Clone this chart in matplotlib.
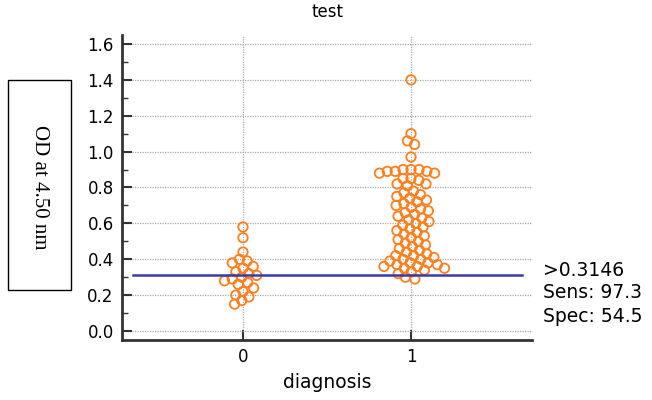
import numpy as np
import matplotlib
matplotlib.use("Agg")
import matplotlib.pyplot as plt
from matplotlib.patches import Rectangle
from matplotlib.ticker import MultipleLocator

# ---- data ----
categories = [0, 1]
group0 = [0.58, 0.52, 0.44, 0.40, 0.39, 0.38, 0.36, 0.35, 0.33, 0.32,
          0.31, 0.30, 0.29, 0.28, 0.27, 0.26, 0.24, 0.22, 0.20, 0.19, 0.17, 0.15]
group1 = [1.40, 1.10, 1.06, 1.04, 0.97, 0.90, 0.90, 0.90, 0.89, 0.89, 0.89, 0.88,
          0.88, 0.85, 0.85, 0.84, 0.82, 0.82, 0.81,
          0.78, 0.77, 0.76, 0.75, 0.74, 0.73, 0.72, 0.71, 0.70, 0.69, 0.68, 0.67,
          0.66, 0.65, 0.64, 0.63, 0.62, 0.61, 0.60, 0.59, 0.58, 0.57, 0.56, 0.55,
          0.54, 0.53, 0.52, 0.51, 0.50, 0.49, 0.48, 0.47, 0.46, 0.45, 0.44, 0.43,
          0.42, 0.42, 0.41, 0.40, 0.40, 0.39, 0.38, 0.38, 0.37, 0.37, 0.36, 0.36,
          0.35, 0.35, 0.34, 0.33, 0.32, 0.30, 0.29]
groups = [group0, group1]
cutoff = 0.3146
cutoff_label = ">0.3146"
sens_label = "Sens: 97.3"
spec_label = "Spec: 54.5"
yticks = [0.0, 0.2, 0.4, 0.6, 0.8, 1.0, 1.2, 1.4, 1.6]

SANS = "DejaVu Sans"
orange = "#ff7f1e"
fig = plt.figure(figsize=(6.52, 4.0), dpi=100)
ax = fig.add_axes([122/652, 1-340/400, (532-122)/652, (340-35)/400])
ax.set_xlim(-0.72, 1.72)
ax.set_ylim(-0.05, 1.65)

# swarm layout in pixel units
def swarm(xc, ys, diam):
    pts = ax.transData.transform(np.column_stack([np.full(len(ys), xc), ys]))
    cx = pts[0, 0]
    order = np.argsort(-np.asarray(ys))
    placed = []
    xs = np.zeros(len(ys))
    for i in order:
        yi = pts[i, 1]
        cands = [0.0]
        for (px, py) in placed:
            dy = yi - py
            if abs(dy) < diam:
                dx = np.sqrt(diam**2 - dy**2)
                cands += [px - cx + dx, px - cx - dx]
        cands = sorted(cands, key=lambda c: (abs(c), c))
        for c in cands:
            ok = True
            for (px, py) in placed:
                if (cx + c - px)**2 + (yi - py)**2 < diam**2 - 1e-6:
                    ok = False
                    break
            if ok:
                break
        placed.append((cx + c, yi))
        xs[i] = cx + c
    back = ax.transData.inverted().transform(np.column_stack([xs, pts[:, 1]]))
    return back[:, 0]

for cat, vals in zip(categories, groups):
    xs = swarm(cat, vals, 8.0)
    ax.scatter(xs, vals, s=46, facecolors="none", edgecolors=orange,
               linewidths=1.3, zorder=3)

ax.plot([-0.655, 1.66], [cutoff, cutoff], color="#3a3aa8", lw=1.8, zorder=4)

ax.set_xticks(categories)
ax.set_yticks(yticks)
ax.yaxis.set_minor_locator(MultipleLocator(0.1))
ax.set_yticklabels([f"{v:.1f}" for v in yticks])
ax.grid(True, which="major", color="#aaaaaa", linestyle=(0, (1, 1)), lw=0.9, zorder=0)
for s in ["top", "right"]:
    ax.spines[s].set_visible(False)
for s in ["left", "bottom"]:
    ax.spines[s].set_color("#333333")
    ax.spines[s].set_linewidth(2)
ax.tick_params(which="major", direction="in", length=7, width=1.5, color="#333333",
               labelsize=12, pad=6, labelcolor="black")
ax.tick_params(which="minor", direction="in", length=4, width=1, color="#333333")
ax.tick_params(axis="x", which="minor", length=0)
for lab in ax.get_xticklabels() + ax.get_yticklabels():
    lab.set_family(SANS)

fig.text(327/652, 1-12/400, "test", ha="center", va="center", fontsize=12,
         family=SANS)
fig.text(327/652, 1-383/400, "diagnosis", ha="center", va="center", fontsize=13.5,
         family=SANS)

for t, yp in zip([cutoff_label, sens_label, spec_label], [270, 293, 316]):
    fig.text(543/652, 1-yp/400, t, ha="left", va="center", fontsize=13.5,
             family=SANS)

fig.patches.append(Rectangle((8/652, 1-290/400), 63/652, 210/400, transform=fig.transFigure,
                             fill=False, edgecolor="black", lw=1.0))
fig.text(39/652, 1-187/400, "OD at 4.50 nm", rotation=-90, ha="center", va="center",
         fontsize=15, family="Liberation Serif")

fig.savefig("out.png", dpi=100)
